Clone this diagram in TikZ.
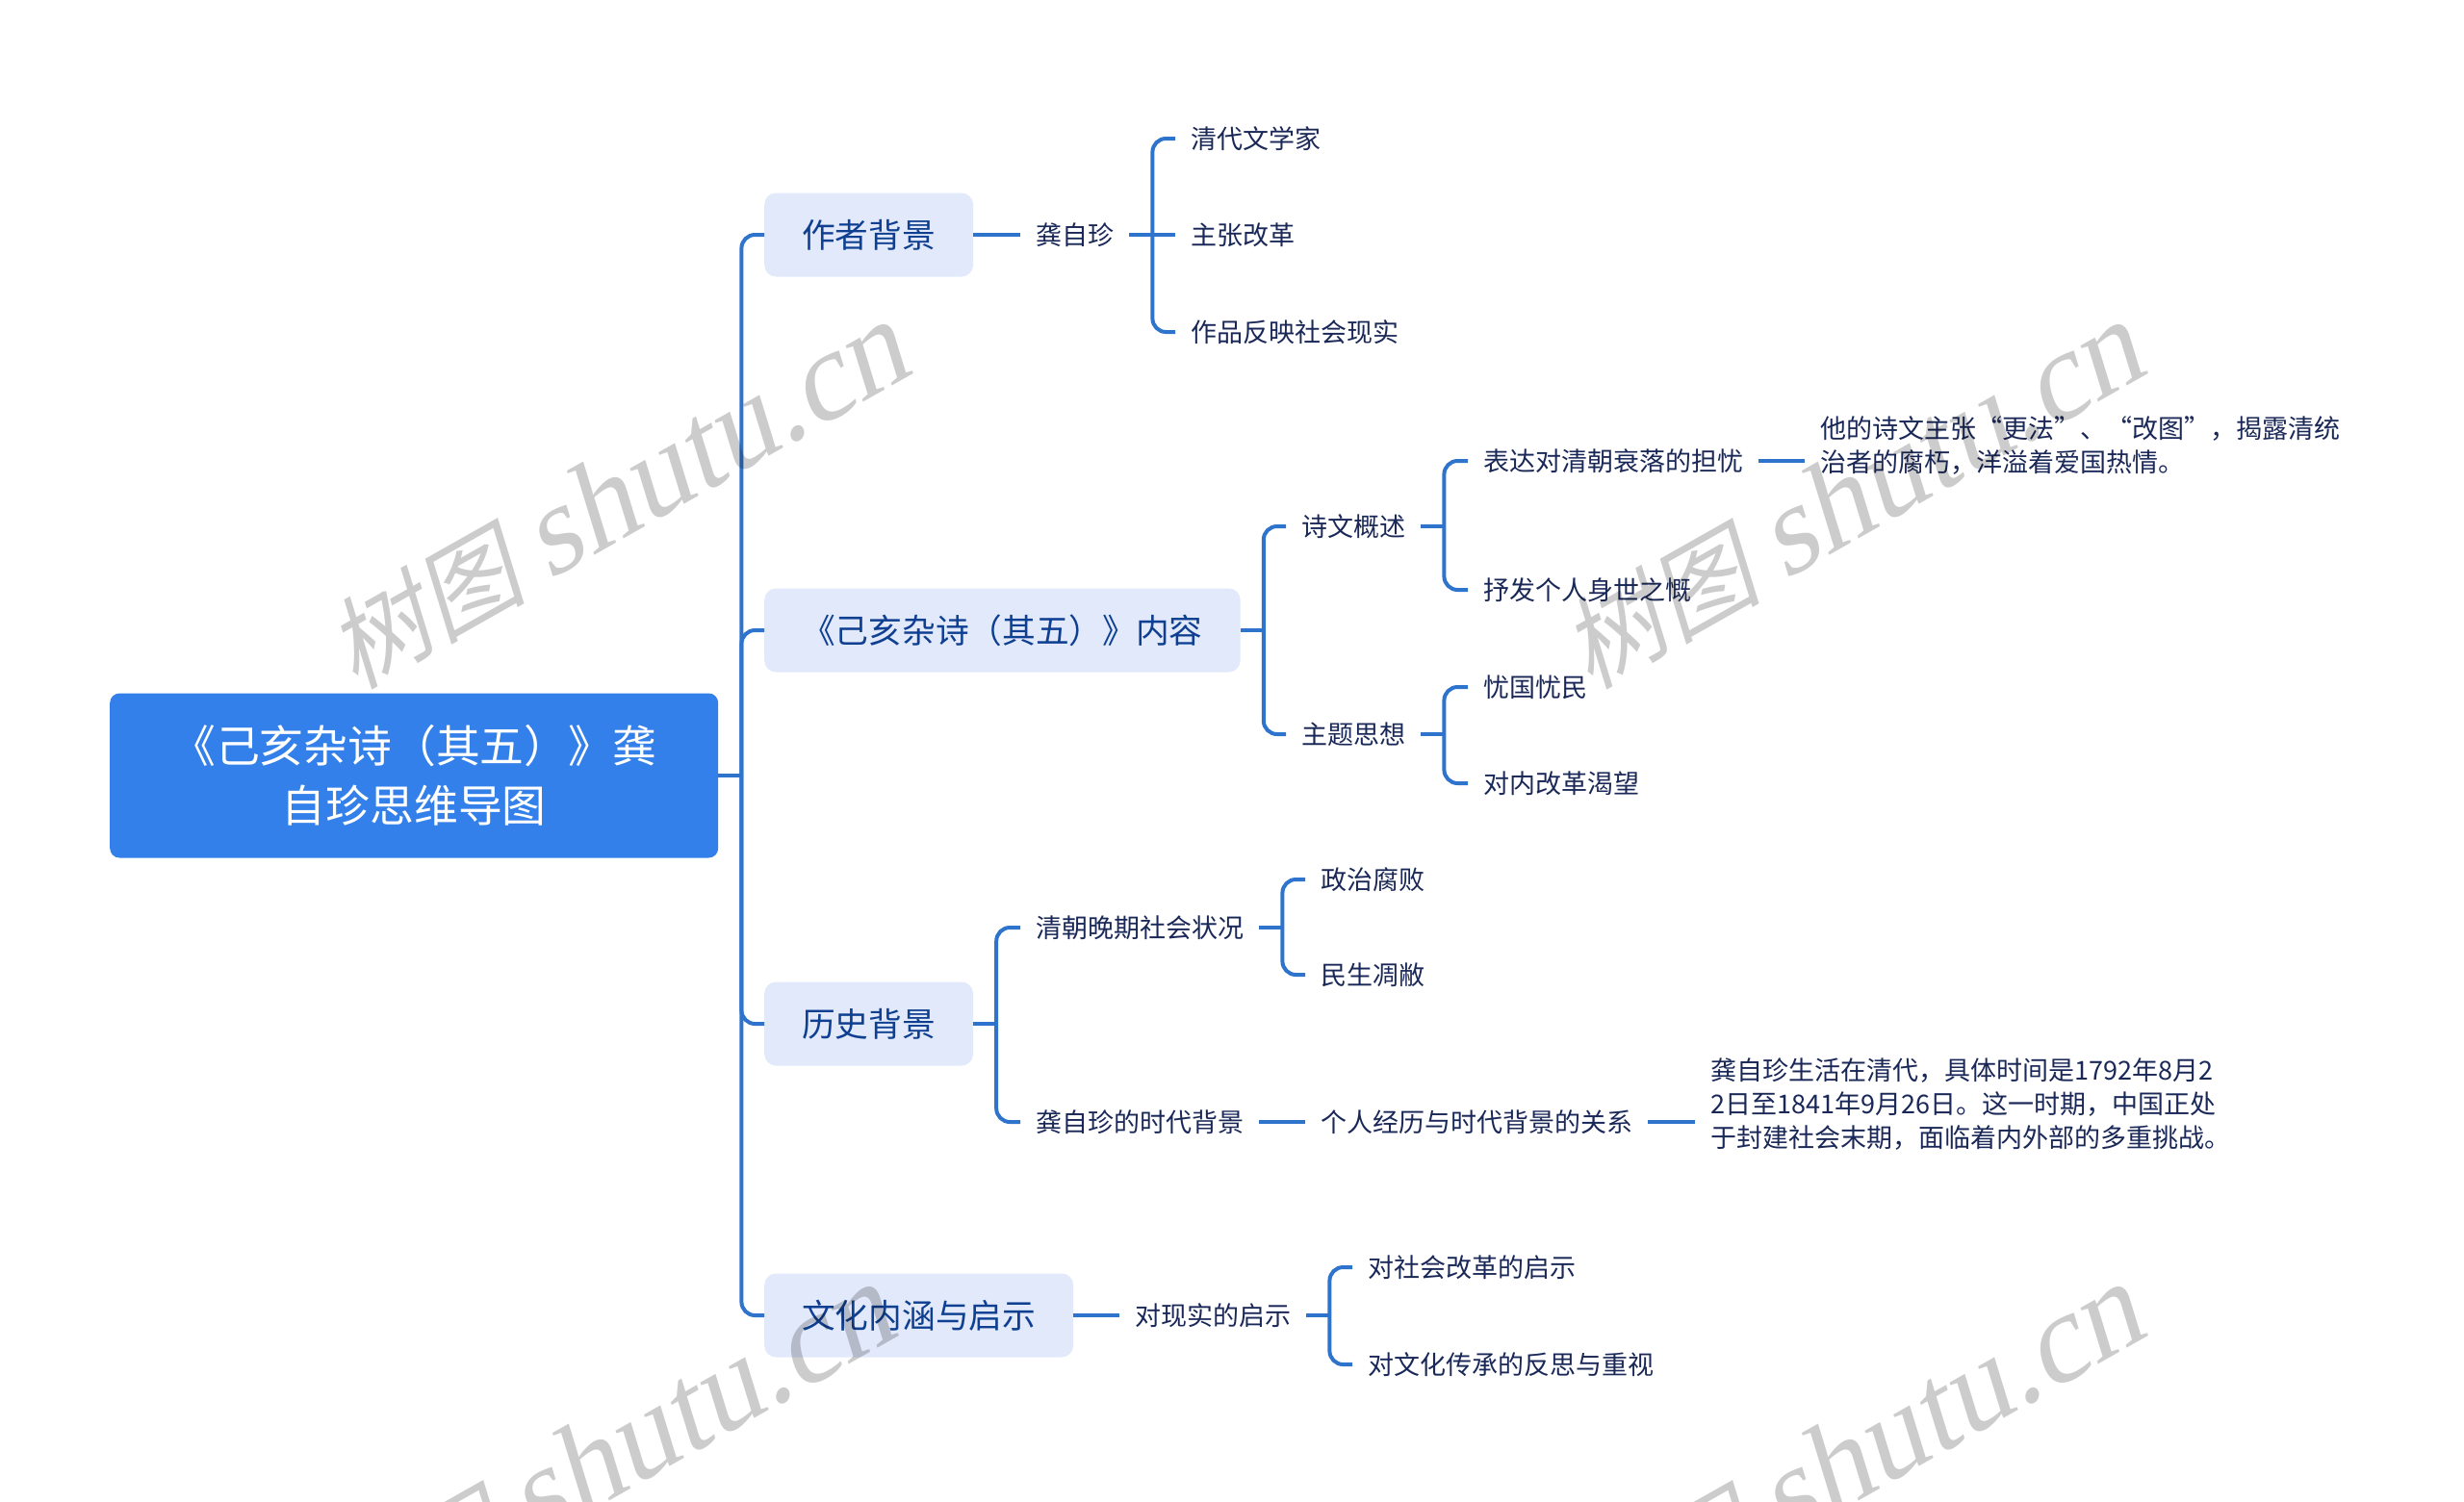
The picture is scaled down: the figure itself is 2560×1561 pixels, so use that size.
\documentclass[tikz,border=0pt]{standalone}
\usepackage{fontspec}
\setmainfont{Noto Sans CJK SC}
\newfontfamily\wmfont[FakeSlant=0.22]{Liberation Serif}
\newfontfamily\wmcjk[FakeSlant=0.22]{Noto Sans CJK SC}
\definecolor{rootblue}{HTML}{3380EA}
\definecolor{linkblue}{HTML}{2F74CC}
\definecolor{paleblue}{HTML}{E1E9FB}
\definecolor{deepblue}{HTML}{0F3F91}
\definecolor{navytext}{HTML}{1A2858}
\tikzset{
	rootbox/.style={draw=none, rectangle, rounded corners=10pt, fill=rootblue, text=white, anchor=west, minimum width=632pt, minimum height=171pt, inner sep=0pt, align=center, font=\fontsize{45.8pt}{62pt}\selectfont},
	branchbox/.style={draw=none, rectangle, rounded corners=12pt, fill=paleblue, text=deepblue, anchor=west, minimum height=87pt, inner xsep=39pt, inner ysep=0pt, font=\fontsize{34.7pt}{42pt}\selectfont},
	leaf/.style={rectangle, text=navytext, anchor=west, inner xsep=16pt, inner ysep=0pt, align=left, font=\fontsize{27pt}{35pt}\selectfont},
	link/.style={draw=linkblue, line width=4pt, rounded corners=14pt},
	stamp/.style={text=black, opacity=0.2, rotate=29.5, inner sep=0pt}
}
\newcommand{\stampword}{{\wmcjk\fontsize{104pt}{104pt}\selectfont 树图}\hspace{24pt}{\wmfont\fontsize{130pt}{130pt}\selectfont shutu.cn}}
\begin{document}
\begin{tikzpicture}[x=1pt, y=-1pt]
	\useasboundingbox (0,0) rectangle (2560,1561);
	\clip (0,0) rectangle (2560,1561);
	\node[rootbox] (Root)at(114, 806) {《己亥杂诗（其五）》龚\\自珍思维导图};
	\node[branchbox] (A)at(794, 244) {作者背景};
	\node[branchbox] (B)at(794, 655) {《己亥杂诗（其五）》内容};
	\node[branchbox] (C)at(794, 1064) {历史背景};
	\node[branchbox] (D)at(794, 1367) {文化内涵与启示};
	\node[leaf] (A1)at(1060, 244) {龚自珍};
	\node[leaf] (A11)at(1221, 144) {清代文学家};
	\node[leaf] (A12)at(1221, 244) {主张改革};
	\node[leaf] (A13)at(1221, 345) {作品反映社会现实};
	\node[leaf] (B1)at(1336, 547) {诗文概述};
	\node[leaf] (B2)at(1336, 763) {主题思想};
	\node[leaf] (B11)at(1525, 479) {表达对清朝衰落的担忧};
	\node[leaf] (B12)at(1525, 613) {抒发个人身世之慨};
	\node[leaf] (B111)at(1875, 463) {他的诗文主张“更法”、“改图”，揭露清统\\治者的腐朽，洋溢着爱国热情。};
	\node[leaf] (B21)at(1525, 714) {忧国忧民};
	\node[leaf] (B22)at(1525, 814) {对内改革渴望};
	\node[leaf] (C1)at(1060, 964) {清朝晚期社会状况};
	\node[leaf] (C2)at(1060, 1166) {龚自珍的时代背景};
	\node[leaf] (C11)at(1356, 914) {政治腐败};
	\node[leaf] (C12)at(1356, 1013) {民生凋敝};
	\node[leaf] (C21)at(1356, 1166) {个人经历与时代背景的关系};
	\node[leaf] (C211)at(1761, 1148) {龚自珍生活在清代，具体时间是1792年8月2\\2日至1841年9月26日。这一时期，中国正处\\于封建社会末期，面临着内外部的多重挑战。};
	\node[leaf] (D1)at(1163, 1367) {对现实的启示};
	\node[leaf] (D11)at(1405, 1317) {对社会改革的启示};
	\node[leaf] (D12)at(1405, 1418) {对文化传承的反思与重视};
	\draw[link] (Root.east) -- ++(24,0) coordinate (RootFork);
	\draw[link] (RootFork) |- (A.west);
	\draw[link] (RootFork) |- (B.west);
	\draw[link] (RootFork) |- (C.west);
	\draw[link] (RootFork) |- (D.west);
	\draw[link] (A.east) -- (A1.west);
	\draw[link] (A1.east) -- ++(24,0) coordinate (A1Fork);
	\draw[link] (A1Fork) -- (A12.west);
	\draw[link] (A1Fork) |- (A11.west);
	\draw[link] (A1Fork) |- (A13.west);
	\draw[link] (B.east) -- ++(24,0) coordinate (BFork);
	\draw[link] (BFork) |- (B1.west);
	\draw[link] (BFork) |- (B2.west);
	\draw[link] (B1.east) -- ++(24,0) coordinate (B1Fork);
	\draw[link] (B1Fork) |- (B11.west);
	\draw[link] (B1Fork) |- (B12.west);
	\draw[link] (B11.east) -- (B11.east -| B111.west);
	\draw[link] (B2.east) -- ++(24,0) coordinate (B2Fork);
	\draw[link] (B2Fork) |- (B21.west);
	\draw[link] (B2Fork) |- (B22.west);
	\draw[link] (C.east) -- ++(24,0) coordinate (CFork);
	\draw[link] (CFork) |- (C1.west);
	\draw[link] (CFork) |- (C2.west);
	\draw[link] (C1.east) -- ++(24,0) coordinate (C1Fork);
	\draw[link] (C1Fork) |- (C11.west);
	\draw[link] (C1Fork) |- (C12.west);
	\draw[link] (C2.east) -- (C21.west);
	\draw[link] (C21.east) -- (C21.east -| C211.west);
	\draw[link] (D.east) -- (D1.west);
	\draw[link] (D1.east) -- ++(24,0) coordinate (D1Fork);
	\draw[link] (D1Fork) |- (D11.west);
	\draw[link] (D1Fork) |- (D12.west);
	\node[stamp] (Stamp1)at(640, 517) {\stampword};
	\node[stamp] (Stamp2)at(1923, 517) {\stampword};
	\node[stamp] (Stamp3)at(625, 1517) {\stampword};
	\node[stamp] (Stamp4)at(1923, 1517) {\stampword};
\end{tikzpicture}
\end{document}
